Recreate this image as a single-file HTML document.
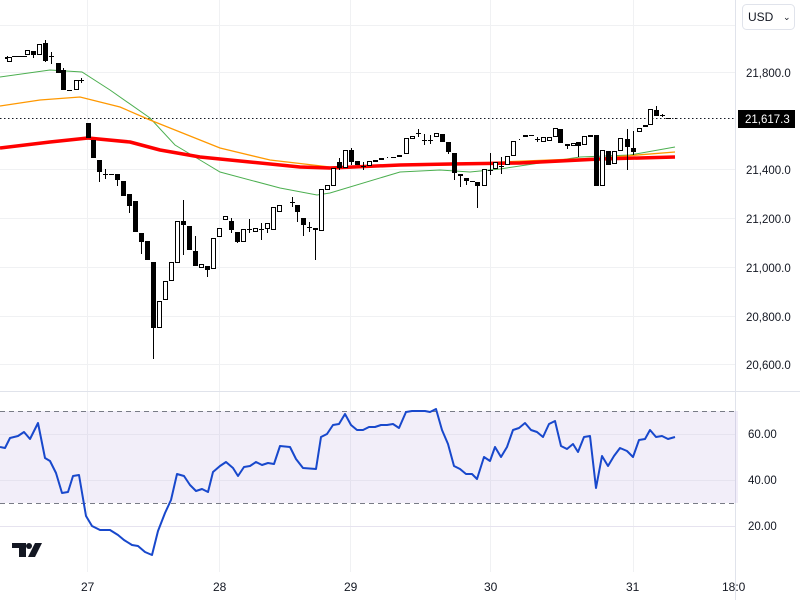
<!DOCTYPE html>
<html><head><meta charset="utf-8"><style>
html,body{margin:0;padding:0;background:#fff;}
body{width:800px;height:600px;overflow:hidden;font-family:"Liberation Sans",sans-serif;}
svg text{font-family:"Liberation Sans",sans-serif;font-size:12px;fill:#131722;}
svg text.p{font-size:11.5px;}
</style></head><body>
<svg id="s" width="800" height="600" viewBox="0 0 800 600" xmlns="http://www.w3.org/2000/svg">
<g stroke="#f0f1f3" stroke-width="1">
<line x1="0" y1="72.5" x2="735" y2="72.5"/><line x1="0" y1="169.5" x2="735" y2="169.5"/><line x1="0" y1="218.5" x2="735" y2="218.5"/><line x1="0" y1="267.5" x2="735" y2="267.5"/><line x1="0" y1="316.5" x2="735" y2="316.5"/><line x1="0" y1="364.5" x2="735" y2="364.5"/><line x1="0" y1="25.5" x2="735" y2="25.5"/>
<line x1="87.5" y1="0" x2="87.5" y2="572"/><line x1="219.5" y1="0" x2="219.5" y2="572"/><line x1="350.5" y1="0" x2="350.5" y2="572"/><line x1="490.5" y1="0" x2="490.5" y2="572"/><line x1="633.5" y1="0" x2="633.5" y2="572"/>
</g>
<line x1="0" y1="391.5" x2="800" y2="391.5" stroke="#e0e3eb"/>
<line x1="735.5" y1="0" x2="735.5" y2="600" stroke="#e0e3eb"/>
<rect x="0" y="411" width="738" height="92" fill="#7e57c2" fill-opacity="0.1"/>
<g stroke="#e6e3ef"><line x1="0" y1="434.5" x2="735" y2="434.5"/><line x1="0" y1="480.5" x2="735" y2="480.5"/><line x1="0" y1="526.5" x2="735" y2="526.5"/></g>
<g stroke="#787b86" stroke-dasharray="5,4"><line x1="0" y1="411.5" x2="738" y2="411.5"/><line x1="0" y1="503.5" x2="738" y2="503.5"/></g>
<line x1="0" y1="118.5" x2="735" y2="118.5" stroke="#131722" stroke-dasharray="1.5,2.5"/>
<polyline fill="none" stroke="#4caf50" stroke-width="1" points="0,77 50,70 82,72 110,90 150,118 175,145 200,160 220,172 280,188 317,195 330,193 400,172 440,170 470,172 500,169 580,157 630,155 675,147"/>
<polyline fill="none" stroke="#ff9800" stroke-width="1.3" points="0,106 40,100 80,97 120,107 150,120 180,132 220,148 270,160 330,167 450,165 500,162 600,158 675,152"/>
<polyline fill="none" stroke="#f00" stroke-width="3.5" stroke-linejoin="round" points="0,148 50,142 88,138 130,142 160,150 200,157 250,162 300,167 330,168 400,165 450,164 520,163 600,159 675,157"/>
<g id="c"></g>
<polyline fill="none" stroke="#1848cc" stroke-width="2" stroke-linejoin="round" points="0,447 5,448 10,438 18,436 24,432 30,439 38,423 45,458 50,461 56,473 62,493 68,492 73,476 79,475 86,516 92,526 100,530 110,530 118,535 124,540 132,545 138,546 145,552 152,555 158,531 165,513 171,500 177,474 184,476 190,485 196,491 202,489 208,492 213,472 220,466 226,462 233,468 238,476 244,467 250,466 256,462 262,465 268,463 274,464 280,446 290,447 296,459 303,468 316,469 321,437 327,434 333,425 339,424 345,414 351,425 357,430 363,430 369,427 375,427 381,425 387,425 393,424 399,428 406,412 412,411 425,411 430,412 436,409 442,430 448,444 454,466 460,469 466,474 472,474 477,479 484,457 490,461 495,447 501,457 507,447 513,430 519,428 525,423 531,430 537,432 543,437 549,424 555,421 561,446 567,449 573,444 578,452 584,437 590,436 596,488 602,456 608,466 614,456 620,448 627,451 633,457 639,440 645,439 650,430 656,437 662,436 668,439 675,437"/>
<text class="p" x="746" y="77">21,800.0</text><text class="p" x="746" y="174">21,400.0</text><text class="p" x="746" y="223">21,200.0</text><text class="p" x="746" y="272">21,000.0</text><text class="p" x="746" y="321">20,800.0</text><text class="p" x="746" y="369">20,600.0</text>
<text class="p" x="748" y="438">60.00</text><text class="p" x="748" y="484">40.00</text><text class="p" x="748" y="530">20.00</text>
<rect x="738" y="110" width="57" height="18" fill="#000"/>
<text class="p" x="745" y="123" style="fill:#fff">21,617.3</text>
<rect x="742.5" y="4.5" width="52" height="25" rx="4" fill="#fff" stroke="#e0e3eb"/>
<text x="748" y="21">USD</text><text x="783" y="20" style="font-size:9px">⌄</text>
<text x="81" y="591">27</text><text x="213" y="591">28</text><text x="344" y="591">29</text><text x="484" y="591">30</text><text x="626" y="591">31</text><text x="722" y="591">18:0</text>
<g fill="#131722"><rect x="12" y="543" width="14" height="5"/><rect x="19" y="543" width="7" height="14"/><circle cx="29" cy="546" r="3"/><polygon points="35,543 42,543 35,557 28,557"/></g>
</svg>
<script>
var d=[[7,57,59,56,62],[9,62,57,57,62],[14,56,56,56,56],[19,56,56,56,56],[24,56,56,56,56],[27,55,50,50,55],[33,51,55,51,58],[39,55,44,44,55],[45,43,61,40,62],[51,56,57,52,64],[58,63,73,63,73],[63,70,90,68,90],[69,90,90,90,90],[76,90,80,80,90],[81,80,80,78,83],[88,123,138,123,138],[93,140,158,140,158],[99,160,172,160,182],[105,174,174,169,179],[111,174,174,174,174],[117,174,180,174,186],[123,181,196,181,196],[129,194,206,194,213],[135,201,232,201,232],[141,233,242,233,254],[147,241,260,241,260],[153,262,328,262,359],[159,328,301,301,328],[165,300,281,281,300],[171,281,262,262,281],[177,263,221,221,263],[183,221,225,200,255],[189,226,250,226,250],[195,251,266,236,266],[201,268,264,264,268],[207,266,270,266,277],[213,269,238,238,269],[219,237,228,228,237],[225,220,216,216,220],[231,221,230,218,233],[237,232,242,232,243],[243,242,229,229,242],[249,229,229,219,233],[255,232,228,228,232],[261,229,229,223,240],[267,229,223,223,233],[273,230,207,207,230],[279,212,205,205,212],[292,202,202,197,207],[297,205,212,205,222],[303,218,225,218,236],[309,227,227,222,232],[315,228,230,228,260],[321,231,189,189,231],[327,190,185,185,190],[333,186,168,168,186],[339,162,168,158,170],[345,168,150,150,168],[351,150,162,148,165],[357,161,165,161,165],[363,166,166,162,170],[369,166,161,161,166],[375,162,160,160,162],[381,160,158,158,160],[387,158,157,157,158],[393,157,157,157,157],[399,157,155,155,157],[406,154,138,138,154],[412,139,136,136,139],[418,133,133,129,137],[424,140,140,134,145],[430,140,140,135,144],[436,137,133,133,137],[442,134,142,134,142],[448,142,152,142,154],[454,153,173,153,180],[460,174,176,174,187],[466,178,181,178,185],[472,181,181,181,181],[477,182,186,182,208],[484,186,169,169,186],[490,170,170,153,175],[495,169,162,162,169],[501,166,166,157,174],[507,165,156,156,165],[513,156,141,141,156],[519,140,139,139,140],[525,137,135,135,137],[531,135,135,135,135],[537,139,139,137,142],[543,142,137,137,142],[549,141,137,137,141],[555,137,128,128,137],[560,129,143,129,143],[567,144,146,144,149],[573,146,143,143,146],[578,142,146,142,157],[584,145,136,136,145],[590,137,135,135,137],[596,135,186,135,186],[602,186,150,150,186],[608,151,165,151,165],[614,164,151,151,164],[620,151,138,138,151],[627,139,147,129,170],[633,148,152,131,155],[639,132,128,128,132],[645,127,125,125,127],[650,125,109,109,125],[656,110,116,106,116],[662,115,115,114,117],[668,118,118,118,118],[675,119,118,118,119]];
var g=document.getElementById('c'),h='';
d.forEach(function(c){var x=c[0],o=c[1],cl=c[2],hi=c[3],lo=c[4];
h+='<line x1="'+(x+.5)+'" y1="'+hi+'" x2="'+(x+.5)+'" y2="'+lo+'" stroke="#000"/>';
var t=Math.min(o,cl),b=Math.max(o,cl);
if(b-t<1){h+='<line x1="'+(x-2)+'" y1="'+(t+.5)+'" x2="'+(x+3)+'" y2="'+(t+.5)+'" stroke="#000"/>';}
else if(cl>o){h+='<rect x="'+(x-2)+'" y="'+t+'" width="5" height="'+(b-t)+'" fill="#000"/>';}
else{h+='<rect x="'+(x-1.5)+'" y="'+(t+.5)+'" width="4" height="'+(b-t-1)+'" fill="#fff" stroke="#000"/>';}
});
g.innerHTML=h;
</script>
</body></html>
